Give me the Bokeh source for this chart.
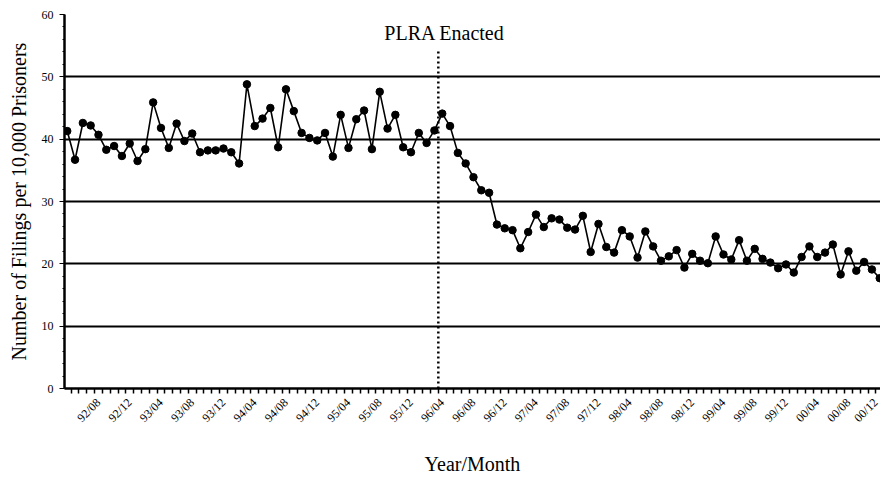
import pandas as pd
from bokeh.plotting import figure
from bokeh.models import FixedTicker, Range1d, Label, ColumnDataSource
from bokeh.embed import file_html
from bokeh.resources import INLINE
import math

# Monthly series, 92/04 .. 00/12
months = [p.strftime("%y/%m") for p in pd.period_range("1992-04", "2000-12", freq="M")]
filings = [
    41.3, 36.7, 42.6, 42.2, 40.7, 38.3, 38.9, 37.3, 39.3, 36.5, 38.4, 45.9, 41.8, 38.6,
    42.5, 39.7, 40.9, 37.9, 38.2, 38.2, 38.5, 37.9, 36.1, 48.8, 42.1, 43.3, 45.0, 38.7,
    48.0, 44.5, 41.0, 40.2, 39.8, 41.0, 37.2, 43.9, 38.6, 43.2, 44.6, 38.4, 47.6, 41.7,
    43.9, 38.7, 37.9, 41.0, 39.4, 41.4, 44.1, 42.1, 37.8, 36.1, 33.9, 31.8,
    31.4, 26.3, 25.7, 25.4, 22.5, 25.1, 27.9, 25.9, 27.3, 27.1, 25.8, 25.5, 27.7, 21.9,
    26.4, 22.7, 21.8, 25.4, 24.4, 21.0, 25.2, 22.8, 20.5, 21.2, 22.2,
    19.4, 21.6, 20.5, 20.1, 24.4, 21.5, 20.7, 23.8, 20.5, 22.4, 20.8, 20.2, 19.3, 19.9,
    18.6, 21.1, 22.8, 21.1, 21.8, 23.1, 18.3, 22.0, 18.9, 20.3, 19.1, 17.7,
]
tick_labels = ["92/08", "92/12", "93/04", "93/08", "93/12", "94/04", "94/08", "94/12",
               "95/04", "95/08", "95/12", "96/04", "96/08", "96/12", "97/04", "97/08",
               "97/12", "98/04", "98/08", "98/12", "99/04", "99/08", "99/12", "00/04",
               "00/08", "00/12"]
y_ticks = [0, 10, 20, 30, 40, 50, 60]
event_month = "96/04"
event_label = "PLRA Enacted"

x = list(range(len(months)))
src = ColumnDataSource(dict(x=x, y=filings, m=months))

SERIF = "Liberation Serif"

p = figure(width=880, height=477, output_backend="svg", toolbar_location=None,
           x_range=Range1d(-0.35, len(months) - 0.9), y_range=Range1d(0, 60),
           min_border_left=64, min_border_right=0, min_border_top=14, min_border_bottom=89)
p.outline_line_color = None
p.background_fill_color = "white"
p.border_fill_color = "white"

# grid
p.xgrid.visible = False
p.ygrid.ticker = FixedTicker(ticks=y_ticks)
p.ygrid.grid_line_color = "black"
p.ygrid.grid_line_width = 2

# y axis
p.yaxis.ticker = FixedTicker(ticks=y_ticks, minor_ticks=list(range(0, 61, 2)))
p.yaxis.axis_line_width = 2.5
p.yaxis.axis_line_color = "black"
p.yaxis.major_tick_out = 5
p.yaxis.major_tick_in = 0
p.yaxis.minor_tick_out = 2
p.yaxis.minor_tick_in = 0
p.yaxis.major_label_text_font = SERIF
p.yaxis.major_label_text_font_size = "12px"
p.yaxis.major_label_text_color = "black"
p.yaxis.major_label_standoff = 6
p.yaxis.axis_label = "Number of Filings per 10,000 Prisoners"
p.yaxis.axis_label_text_font = SERIF
p.yaxis.axis_label_text_font_size = "20px"
p.yaxis.axis_label_text_font_style = "normal"
p.yaxis.axis_label_text_color = "black"
p.yaxis.axis_label_standoff = 9

# x axis
tick_pos = [months.index(t) for t in tick_labels]
p.xaxis.ticker = FixedTicker(ticks=tick_pos, minor_ticks=[i + 0.5 for i in range(-1, len(months))])
p.xaxis.major_label_overrides = {pos: lab for pos, lab in zip(tick_pos, tick_labels)}
p.xaxis.major_label_orientation = math.pi / 4
p.xaxis.major_label_text_font = SERIF
p.xaxis.major_label_text_font_size = "12px"
p.xaxis.major_label_text_color = "black"
p.xaxis.major_label_standoff = 7
p.xaxis.axis_line_width = 2.5
p.xaxis.axis_line_color = "black"
p.xaxis.major_tick_out = 0
p.xaxis.major_tick_in = 0
p.xaxis.minor_tick_out = 5
p.xaxis.minor_tick_in = 0
p.xaxis.minor_tick_line_width = 1.5
p.xaxis.axis_label = "Year/Month"
p.xaxis.axis_label_text_font = SERIF
p.xaxis.axis_label_text_font_size = "20px"
p.xaxis.axis_label_text_font_style = "normal"
p.xaxis.axis_label_text_color = "black"
p.xaxis.axis_label_standoff = 20

# event marker
ev = months.index(event_month) - 0.5
p.segment(x0=[ev], y0=[0], x1=[ev], y1=[54.5], line_color="black", line_width=2.5,
          line_dash="2 3")
p.add_layout(Label(x=ev + 0.8, y=55.3, text=event_label, text_align="center",
                   text_font=SERIF, text_font_size="20px", text_color="black",
                   text_baseline="bottom"))

# series
p.line("x", "y", source=src, line_color="black", line_width=1.6)
p.scatter("x", "y", source=src, size=7.5, fill_color="black", line_color="black")

open("out.html", "w").write(file_html(p, INLINE))
